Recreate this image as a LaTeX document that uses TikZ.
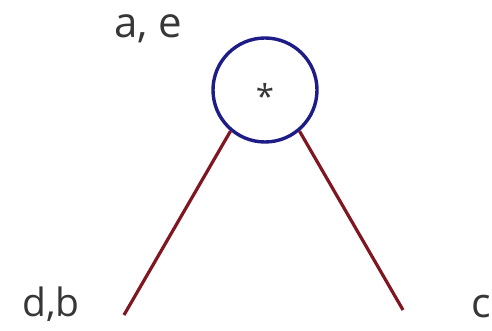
\documentclass[tikz,border=0pt]{standalone}
\usepackage{fontspec}
\setmainfont{Open Sans}
\definecolor{treeOpLine}{RGB}{30,28,135}
\definecolor{treeEdge}{RGB}{128,22,32}
\definecolor{treeText}{RGB}{55,55,55}

\begin{document}
\begin{tikzpicture}[x=1pt,y=1pt,
      varname/.style={font=\fontsize{39}{42}\selectfont,
        text=treeText, anchor=base west, inner sep=0pt},
      opnode/.style={circle, draw=treeOpLine, line width=3.4pt,
        minimum size=104pt, inner sep=0pt,
        font=\fontsize{33}{36}\selectfont, text=treeText},
      edge/.style={draw=treeEdge, line width=3.2pt}]
      \useasboundingbox (0,0) rectangle (492,331);
      \fill[white] (0,0) rectangle (492,331);

      \node[opnode] (op) at (265,241) {\raisebox{-19pt}[0pt][0pt]{*}};
      \node[varname, font=\fontsize{42}{46}\selectfont] (opvars)
        at (114,293) {a, e};

      \coordinate (leftend) at (124,16);
      \coordinate (rightend) at (403,21);
      \draw[edge] (op.230) -- (leftend);
      \draw[edge] (op.310) -- (rightend);

      \node[varname] (leftvars) at (22,14) {d,b};
      \node[varname, font=\fontsize{41}{44}\selectfont] (rightvars)
        at (471,13) {c};
    \end{tikzpicture}
\end{document}
